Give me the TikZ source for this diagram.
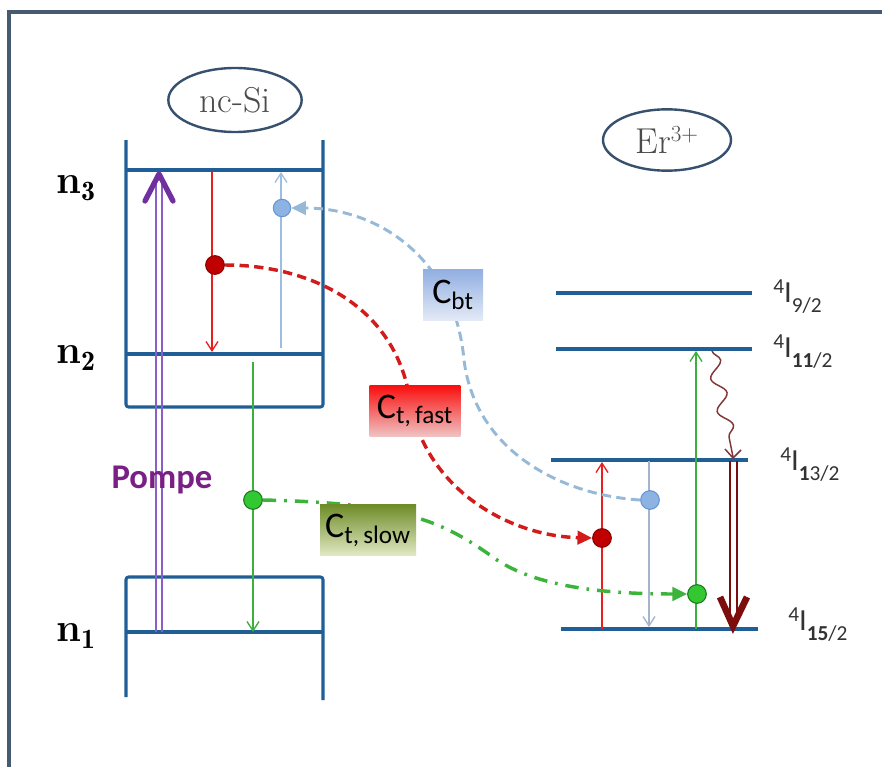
\documentclass[tikz,border=0pt]{standalone}
\usepackage{amsmath}
\usepackage{fontspec}
\setsansfont{Carlito}
\usetikzlibrary{arrows.meta,decorations.pathmorphing,shapes.geometric}
\definecolor{framec}{RGB}{70,90,112}
\definecolor{wellc}{RGB}{31,95,150}
\definecolor{ellc}{RGB}{55,80,110}
\definecolor{txtgrey}{RGB}{75,75,75}
\definecolor{pumpc}{RGB}{140,95,200}
\definecolor{pumphead}{RGB}{112,48,160}
\definecolor{pompetxt}{RGB}{122,31,134}
\definecolor{redc}{RGB}{235,30,30}
\definecolor{reddot}{RGB}{192,0,0}
\definecolor{reddotb}{RGB}{140,0,0}
\definecolor{bluec}{RGB}{157,190,225}
\definecolor{bluegrey}{RGB}{165,180,205}
\definecolor{bluedash}{RGB}{150,185,215}
\definecolor{bluedot}{RGB}{141,179,226}
\definecolor{bluedotb}{RGB}{100,150,215}
\definecolor{greenc}{RGB}{60,175,60}
\definecolor{greendot}{RGB}{50,200,50}
\definecolor{greendotb}{RGB}{30,120,30}
\definecolor{greendash}{RGB}{60,180,60}
\definecolor{brownc}{RGB}{130,55,55}
\definecolor{darkredc}{RGB}{125,12,12}
\definecolor{cbttop}{RGB}{145,175,225}
\definecolor{cbtbot}{RGB}{228,234,246}
\definecolor{cfasttop}{RGB}{250,15,15}
\definecolor{cfastbot}{RGB}{240,195,195}
\definecolor{cslowtop}{RGB}{110,140,40}
\definecolor{cslowbot}{RGB}{225,232,195}
\newcommand\erlev[2]{\raisebox{6.5pt}{\fontsize{16}{16}\selectfont #1}I\raisebox{-8pt}{\fontsize{16}{16}\selectfont #2}}
\begin{document}
\begin{tikzpicture}[x=0.75pt,y=-0.75pt,
  lvl/.style={draw=wellc,line width=2.3pt},
  ellnode/.style={draw=ellc,line width=1.8pt,ellipse,inner sep=0pt,text=txtgrey,font=\fontsize{27}{29}\selectfont},
  dot/.style={circle,inner sep=0pt,minimum size=#1},
  thinarrow/.style={line width=1pt,-{Straight Barb[length=7pt,width=9pt]}},
  curvetip/.style={-{Triangle[length=11pt,width=10pt]}},
  cbox/.style={inner sep=0pt,minimum height=38pt,font=\sffamily\fontsize{27}{29}\selectfont},
  lvllab/.style={anchor=base west,inner sep=0pt,font=\sffamily\fontsize{23}{25}\selectfont,text=black!80},
  nlab/.style={font=\fontsize{30}{32}\selectfont\bfseries}
]
\useasboundingbox (0,0) rectangle (882,767);
\fill[white] (0,0) rectangle (882,767);
% frame
\draw[framec,line width=2.8pt] (9,767) -- (9,12) -- (882,12);

% ellipses
\node[ellnode,minimum width=100pt,minimum height=48pt] (ncsi) at (235,100) {nc-Si};
\node[ellnode,minimum width=96pt,minimum height=46pt] (er) at (667,140) {Er$^{3+}$};

% nc-Si well
\draw[lvl,rounded corners=2pt] (126,140) -- (126,407) -- (323,407) -- (323,140);
\draw[lvl] (126,170) coordinate (n3l) -- (323,170) coordinate (n3r);
\draw[lvl] (126,354) coordinate (n2l) -- (323,354) coordinate (n2r);
\draw[lvl,rounded corners=2pt] (126,697) -- (126,577) -- (323,577) -- (323,700);
\draw[lvl] (126,632) coordinate (n1l) -- (323,632) coordinate (n1r);

\node[nlab] (ln3) at (76,188) {n$_{\mathbf 3}$};
\node[nlab] (ln2) at (76,358) {n$_{\mathbf 2}$};
\node[nlab] (ln1) at (76,636) {n$_{\mathbf 1}$};

% pump
\coordinate (pbot) at (159,632);
\coordinate (ptop) at (159,174);
\draw[pumpc,line width=1.6pt] (156,632) -- (156,180);
\draw[pumpc,line width=1.6pt] (162,632) -- (162,180);
\draw[pumphead,line width=4pt,line cap=round,line join=round] (145,201) -- (ptop) -- (173,201);
\node[text=pompetxt,font=\sffamily\bfseries\fontsize{26}{28}\selectfont] (pompe) at (162,480) {Pompe};

% nc-Si arrows
\coordinate (rtop) at (212,172);
\coordinate (rbot) at (212,352);
\draw[redc,thinarrow] (rtop) -- (rbot);
\coordinate (btop) at (281,172);
\coordinate (bbot) at (281,348);
\draw[bluec,thinarrow] (bbot) -- (btop);
\coordinate (gtop) at (253,362);
\coordinate (gbot) at (253,632);
\draw[greenc,thinarrow] (gtop) -- (gbot);

% Er levels
\draw[lvl] (556,293) coordinate (l9) -- (752,293) coordinate (l9r);
\draw[lvl] (556,349) coordinate (l11) -- (752,349) coordinate (l11r);
\draw[lvl] (551,460) coordinate (l13) -- (748,460) coordinate (l13r);
\draw[lvl] (561,629) coordinate (l15) -- (758,629) coordinate (l15r);
\node[lvllab] (t9) at (773,302) {\erlev{4}{9/2}};
\node[lvllab] (t11) at (773,357) {\erlev{4}{\textbf{11}/2}};
\node[lvllab] (t13) at (780,470) {\erlev{4}{\textbf{1}3/2}};
\node[lvllab] (t15) at (788,630) {\erlev{4}{\textbf{15}/2}};

% Er arrows
\draw[redc,thinarrow] (602,629) -- (602,462);
\draw[bluegrey,thinarrow] (649,461) -- (649,627);
\draw[greenc,thinarrow] (696,629) -- (696,351);
\draw[brownc,line width=1.1pt,decorate,decoration={snake,amplitude=5pt,segment length=25pt,post length=6pt}] (712,351) -- (733,457);
\draw[brownc,line width=1.1pt] (725,449) -- (733,458) -- (741,450);
\draw[darkredc,line width=1.5pt] (730,461) -- (730,620);
\draw[darkredc,line width=1.5pt] (737,461) -- (737,620);
\draw[darkredc,line width=5pt,line join=miter] (720,597) -- (733,626) -- (747,597);

% dots
\node[dot=14pt,fill=reddot,draw=reddotb,line width=0.8pt] (rd1) at (215,265) {};
\node[dot=13pt,fill=bluedot,draw=bluedotb,line width=0.8pt] (bd1) at (282,208) {};
\node[dot=14pt,fill=greendot,draw=greendotb,line width=0.8pt] (gd1) at (253,500) {};
\node[dot=14pt,fill=reddot,draw=reddotb,line width=0.8pt] (rd2) at (602,538) {};
\node[dot=14pt,fill=bluedot,draw=bluedotb,line width=0.8pt] (bd2) at (650,500) {};
\node[dot=14pt,fill=greendot,draw=greendotb,line width=0.8pt] (gd2) at (697,594) {};

% transfer curves
\draw[redc!90!black,line width=2.6pt,dash pattern=on 7pt off 4pt,curvetip] (rd1.east) .. controls (310,265) and (395,305) .. (410,400) .. controls (425,490) and (510,536) .. (rd2.west);
\draw[bluedash,line width=2.2pt,dash pattern=on 7pt off 4pt,curvetip] (bd2.west) .. controls (560,495) and (475,450) .. (464,360) .. controls (455,260) and (380,208) .. (bd1.east);
\draw[greendash,line width=2.6pt,dash pattern=on 10pt off 6pt on 2pt off 6pt,curvetip] (gd1.east) .. controls (400,503) and (440,520) .. (490,555) .. controls (530,586) and (600,594) .. (gd2.west);

% boxes
\node[cbox,minimum width=45pt,top color=cbttop,bottom color=cbtbot] (cbt) at (453,295) {C$_{\text{bt}}$};
\node[cbox,minimum width=68pt,top color=cfasttop,bottom color=cfastbot] (cfast) at (415,411) {C$_{\text{t,\,fast}}$};
\node[cbox,minimum width=72pt,top color=cslowtop,bottom color=cslowbot] (cslow) at (368,530) {C$_{\text{t,\,slow}}$};
\end{tikzpicture}
\end{document}
